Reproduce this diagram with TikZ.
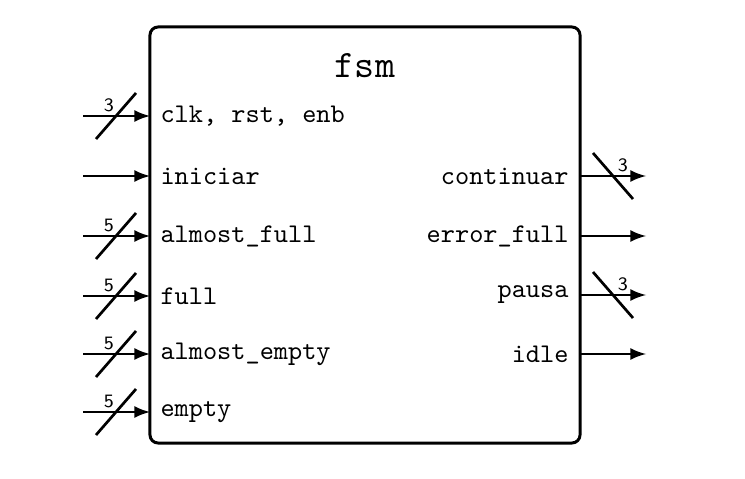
\documentclass[tikz,border=0pt]{standalone}
\usetikzlibrary{arrows,positioning}
\begin{document}
\begin{tikzpicture}[x=0.3704pt,y=-0.3704pt,
  pin/.style={line width=1pt,-latex},
  bus/.style={line width=1pt},
  pinlabel/.style={font=\ttfamily,inner sep=0pt},
  buswidth/.style={font=\sffamily\scriptsize,inner sep=0pt}]
\useasboundingbox (0,0) rectangle (745,479);
%Block
\node[draw,line width=1.1pt,rounded corners=3pt,minimum width=159.3pt,minimum height=154.1pt,inner sep=0pt] (fsm) at (365,235) {};
\node[font=\ttfamily\Large,inner sep=0pt,below=10pt of fsm.north] (titel) {fsm};
%Eingaenge: y/Name/Breite (0 = ein Bit)
\foreach \y/\name/\breite [count=\i] in {116/{clk, rst, enb}/3,176/iniciar/0,236/almost\_full/5,296/full/5,354/almost\_empty/5,412/empty/5}{
  \coordinate (ein\i) at (83,\y);
  \coordinate (epin\i) at (150,\y);
  \draw[pin] (ein\i) -- (epin\i);
  \node[pinlabel,anchor=west,right=10 of epin\i] (elabel\i) {\name};
  \ifnum\breite>0
    \coordinate (emitte\i) at (116,\y);
    \draw[bus] ([shift={(-20,23)}]emitte\i) -- ([shift={(20,-23)}]emitte\i);
    \node[buswidth] (ebreite\i) at ([shift={(-7,-11)}]emitte\i) {\breite};
  \fi
}
%Ausgaenge
\foreach \y/\name/\breite [count=\i] in {176/continuar/3,236/error\_full/0,295/pausa/3,354/idle/0}{
  \coordinate (apin\i) at (580,\y);
  \coordinate (aus\i) at (646,\y);
  \draw[pin] (apin\i) -- (aus\i);
  \node[pinlabel,anchor=east,left=11 of apin\i] (alabel\i) {\name};
  \ifnum\breite>0
    \coordinate (amitte\i) at (613,\y);
    \draw[bus] ([shift={(-20,-23)}]amitte\i) -- ([shift={(20,23)}]amitte\i);
    \node[buswidth] (abreite\i) at ([shift={(10,-11)}]amitte\i) {\breite};
  \fi
}
\end{tikzpicture}
\end{document}
